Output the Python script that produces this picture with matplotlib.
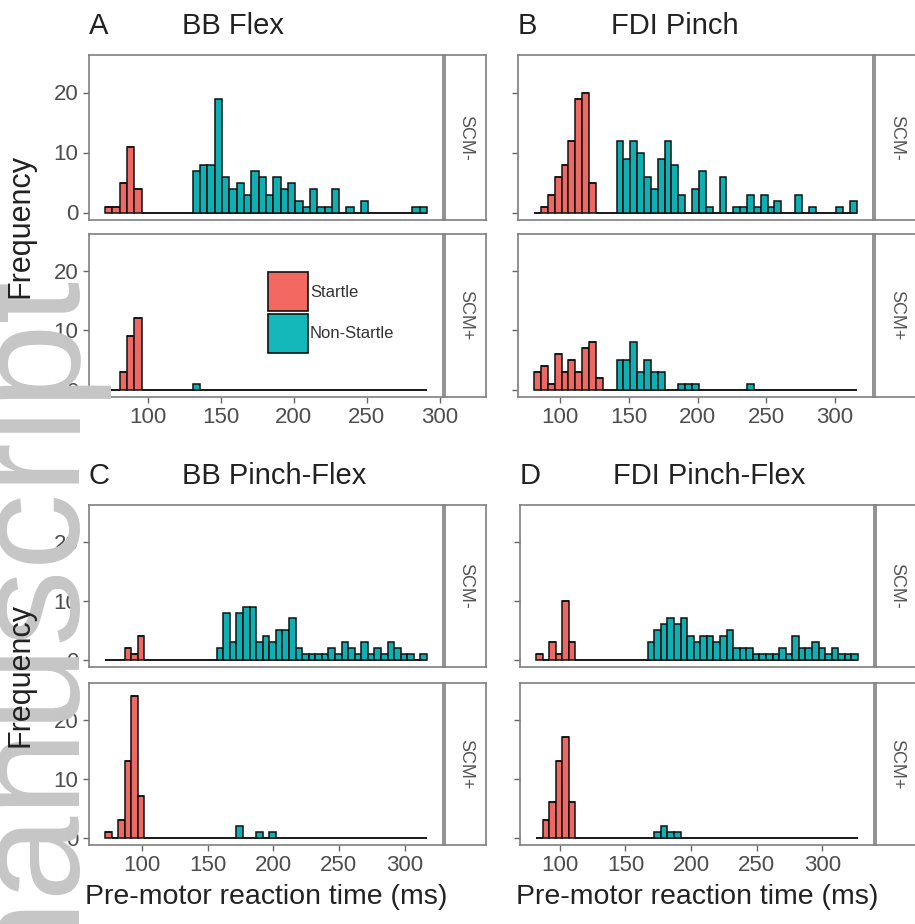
import numpy as np
import matplotlib
matplotlib.use('Agg')
import matplotlib.pyplot as plt
from matplotlib.patches import Rectangle

plt.rcParams['font.family'] = ['Liberation Sans', 'DejaVu Sans']

W, H = 915, 924
BIN = 5
RED = '#EC6A63'
TEAL = '#0FB0B4'
GREY = '#4d4d4d'

# first bin edge of each histogram (ms)
a_start, b_start, c_start, d_start = 71, 81, 72, 82

# counts per 5 ms bin
a_minus_startle = [1, 1, 5, 11, 4, 0, 0, 0, 0, 0,
                   0, 0, 0, 0, 0, 0, 0, 0, 0, 0,
                   0, 0, 0, 0, 0, 0, 0, 0, 0, 0,
                   0, 0, 0, 0, 0, 0, 0, 0, 0, 0,
                   0, 0, 0, 0]
a_minus_non = [0, 0, 0, 0, 0, 0, 0, 0, 0, 0,
               0, 0, 7, 8, 8, 19, 6, 4, 5, 3,
               7, 6, 3, 6, 4, 5, 2, 1, 4, 1,
               1, 4, 0, 1, 0, 2, 0, 0, 0, 0,
               0, 0, 1, 1]
a_plus_startle = [0, 0, 3, 9, 12, 0, 0, 0, 0, 0,
                  0, 0, 0, 0, 0, 0, 0, 0, 0, 0,
                  0, 0, 0, 0, 0, 0, 0, 0, 0, 0,
                  0, 0, 0, 0, 0, 0, 0, 0, 0, 0,
                  0, 0, 0, 0]
a_plus_non = [0, 0, 0, 0, 0, 0, 0, 0, 0, 0,
              0, 0, 1, 0, 0, 0, 0, 0, 0, 0,
              0, 0, 0, 0, 0, 0, 0, 0, 0, 0,
              0, 0, 0, 0, 0, 0, 0, 0, 0, 0,
              0, 0, 0, 0]

b_minus_startle = [0, 1, 3, 6, 8, 12, 19, 20, 5, 0,
                   0, 0, 0, 0, 0, 0, 0, 0, 0, 0,
                   0, 0, 0, 0, 0, 0, 0, 0, 0, 0,
                   0, 0, 0, 0, 0, 0, 0, 0, 0, 0,
                   0, 0, 0, 0, 0, 0, 0]
b_minus_non = [0, 0, 0, 0, 0, 0, 0, 0, 0, 0,
               0, 0, 12, 9, 12, 10, 6, 4, 9, 12,
               8, 3, 0, 4, 7, 1, 0, 6, 0, 1,
               1, 3, 1, 3, 1, 2, 0, 0, 3, 0,
               1, 0, 0, 0, 1, 0, 2]
b_plus_startle = [3, 4, 1, 6, 3, 5, 3, 7, 8, 2,
                  0, 0, 0, 0, 0, 0, 0, 0, 0, 0,
                  0, 0, 0, 0, 0, 0, 0, 0, 0, 0,
                  0, 0, 0, 0, 0, 0, 0, 0, 0, 0,
                  0, 0, 0, 0, 0, 0, 0]
b_plus_non = [0, 0, 0, 0, 0, 0, 0, 0, 0, 0,
              0, 0, 5, 5, 8, 3, 5, 3, 3, 0,
              0, 1, 1, 1, 0, 0, 0, 0, 0, 0,
              0, 1, 0, 0, 0, 0, 0, 0, 0, 0,
              0, 0, 0, 0, 0, 0, 0]

c_minus_startle = [0, 0, 0, 2, 1, 4, 0, 0, 0, 0,
                   0, 0, 0, 0, 0, 0, 0, 0, 0, 0,
                   0, 0, 0, 0, 0, 0, 0, 0, 0, 0,
                   0, 0, 0, 0, 0, 0, 0, 0, 0, 0,
                   0, 0, 0, 0, 0, 0, 0, 0, 0]
c_minus_non = [0, 0, 0, 0, 0, 0, 0, 0, 0, 0,
               0, 0, 0, 0, 0, 0, 0, 2, 8, 3,
               8, 9, 9, 3, 4, 3, 5, 5, 7, 2,
               1, 1, 1, 1, 2, 1, 3, 2, 1, 3,
               1, 2, 1, 3, 2, 1, 1, 0, 1]
c_plus_startle = [1, 0, 3, 13, 24, 7, 0, 0, 0, 0,
                  0, 0, 0, 0, 0, 0, 0, 0, 0, 0,
                  0, 0, 0, 0, 0, 0, 0, 0, 0, 0,
                  0, 0, 0, 0, 0, 0, 0, 0, 0, 0,
                  0, 0, 0, 0, 0, 0, 0, 0, 0]
c_plus_non = [0, 0, 0, 0, 0, 0, 0, 0, 0, 0,
              0, 0, 0, 0, 0, 0, 0, 0, 0, 0,
              2, 0, 0, 1, 0, 1, 0, 0, 0, 0,
              0, 0, 0, 0, 0, 0, 0, 0, 0, 0,
              0, 0, 0, 0, 0, 0, 0, 0, 0]

d_minus_startle = [1, 0, 3, 1, 10, 3, 0, 0, 0, 0,
                   0, 0, 0, 0, 0, 0, 0, 0, 0, 0,
                   0, 0, 0, 0, 0, 0, 0, 0, 0, 0,
                   0, 0, 0, 0, 0, 0, 0, 0, 0, 0,
                   0, 0, 0, 0, 0, 0, 0, 0, 0]
d_minus_non = [0, 0, 0, 0, 0, 0, 0, 0, 0, 0,
               0, 0, 0, 0, 0, 0, 0, 3, 5, 6,
               7, 6, 7, 4, 3, 4, 4, 3, 4, 5,
               2, 2, 2, 1, 1, 1, 1, 2, 1, 4,
               2, 2, 3, 2, 1, 2, 1, 1, 1]
d_plus_startle = [0, 3, 6, 13, 17, 6, 0, 0, 0, 0,
                  0, 0, 0, 0, 0, 0, 0, 0, 0, 0,
                  0, 0, 0, 0, 0, 0, 0, 0, 0, 0,
                  0, 0, 0, 0, 0, 0, 0, 0, 0, 0,
                  0, 0, 0, 0, 0, 0, 0, 0, 0]
d_plus_non = [0, 0, 0, 0, 0, 0, 0, 0, 0, 0,
              0, 0, 0, 0, 0, 0, 0, 0, 1, 2,
              1, 1, 0, 0, 0, 0, 0, 0, 0, 0,
              0, 0, 0, 0, 0, 0, 0, 0, 0, 0,
              0, 0, 0, 0, 0, 0, 0, 0, 0]

letters = ['A', 'B', 'C', 'D']
titles = ['BB Flex', 'FDI Pinch', 'BB Pinch-Flex', 'FDI Pinch-Flex']
facets = ['SCM-', 'SCM+']
groups = ['Startle', 'Non-Startle']
xticks = [100, 150, 200, 250, 300]
yticks = [0, 10, 20]


def box(l, t, r, b):
    return [l / W, 1 - b / H, (r - l) / W, (b - t) / H]


fig = plt.figure(figsize=(W / 100, H / 100), dpi=100)

# pixel layout: panel left/right, facet rows, strip left/right
layout = [
    dict(l=89, r=443, rows=[(55, 220), (234, 397)], s=(445, 486)),
    dict(l=518, r=873, rows=[(55, 220), (234, 397)], s=(875, 918)),
    dict(l=89, r=443, rows=[(505, 667), (683, 845)], s=(445, 486)),
    dict(l=520, r=874, rows=[(505, 667), (683, 845)], s=(876, 918)),
]
data = [
    (a_start, [(a_minus_startle, a_minus_non), (a_plus_startle, a_plus_non)]),
    (b_start, [(b_minus_startle, b_minus_non), (b_plus_startle, b_plus_non)]),
    (c_start, [(c_minus_startle, c_minus_non), (c_plus_startle, c_plus_non)]),
    (d_start, [(d_minus_startle, d_minus_non), (d_plus_startle, d_plus_non)]),
]

for p in range(4):
    lay = layout[p]
    start, rows = data[p]
    for k, (st, ns) in enumerate(rows):
        t, b = lay['rows'][k]
        ax = fig.add_axes(box(lay['l'], t, lay['r'], b))
        st = np.array(st)
        ns = np.array(ns)
        edges = start + BIN * np.arange(len(st))
        ax.bar(edges, st, width=BIN, align='edge', color=RED,
               edgecolor='#111111', linewidth=1.1)
        ax.bar(edges, ns, width=BIN, bottom=st, align='edge', color=TEAL,
               edgecolor='#111111', linewidth=1.1)
        end = edges[-1] + BIN
        pad = 0.05 * (end - start)
        ax.set_xlim(start - pad, end + pad)
        ax.set_ylim(-1.25, 26.25)
        ax.set_yticks(yticks)
        ax.set_xticks(xticks)
        ax.tick_params(colors='#666666', labelcolor=GREY, labelsize=16,
                       length=4, width=1)
        if p % 2 == 1:
            ax.set_yticklabels([])
        if k == 0:
            ax.tick_params(axis='x', bottom=False, labelbottom=False)
        for sp in ax.spines.values():
            sp.set_color('#7f7f7f')
            sp.set_linewidth(1.2)

        # facet strip
        sax = fig.add_axes(box(lay['s'][0], t, lay['s'][1], b))
        sax.set_xticks([])
        sax.set_yticks([])
        for sp in sax.spines.values():
            sp.set_color('#7f7f7f')
            sp.set_linewidth(1.2)
        sax.text(0.5, 0.5, facets[k], rotation=270, ha='center', va='center',
                 fontsize=13, color='#555555', transform=sax.transAxes)

    top = lay['rows'][0][0]
    fig.text(lay['l'] / W, 1 - (top - 29) / H, letters[p], fontsize=21,
             ha='left', va='center', color='#222222')
    fig.text((lay['l'] + 93) / W, 1 - (top - 29) / H, titles[p], fontsize=21,
             ha='left', va='center', color='#222222')

# legend drawn inside panel A (SCM+)
key_colors = ['#F46862', '#14B7BA']
key_tops = [272, 314]
for name, col, kt in zip(groups, key_colors, key_tops):
    fig.add_artist(Rectangle((268 / W, 1 - (kt + 39) / H), 40 / W, 39 / H,
                             transform=fig.transFigure, facecolor=col,
                             edgecolor='#111111', linewidth=1.2))
    fig.text(310 / W, 1 - (kt + 20) / H, name, fontsize=12, ha='left',
             va='center', color='#333333')

# watermark along the left edge
fig.text(70 / W, 1 - 270 / H, 'manuscript', rotation=90, rotation_mode='anchor',
         ha='right', va='baseline', fontsize=110, color='#c6c6c6', zorder=1)

for cy in [(55 + 397) / 2, (505 + 845) / 2]:
    fig.text(21 / W, 1 - cy / H, 'Frequency', rotation=90, ha='center',
             va='center', fontsize=22, color='#222222', zorder=2)
for cx in [(89 + 443) / 2, (520 + 874) / 2]:
    fig.text(cx / W, 1 - 897 / H, 'Pre-motor reaction time (ms)', ha='center',
             va='center', fontsize=20.5, color='#222222', zorder=2)

fig.savefig('out.png', dpi=100)
